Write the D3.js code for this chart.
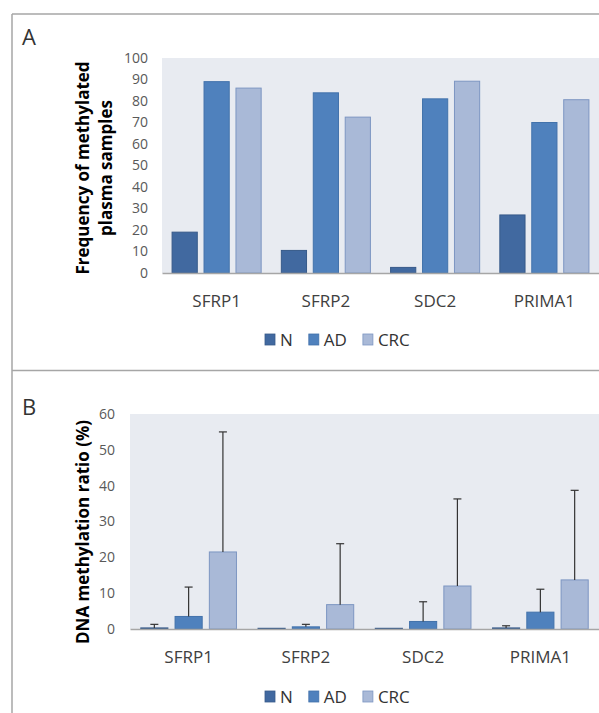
<!DOCTYPE html>
<html lang="en">
<head>
    <meta charset="UTF-8">
    <title>Methylation in plasma samples</title>
    <script src="https://d3js.org/d3.v7.min.js"></script>
    <style>
        body { margin: 0; background: #fff; font-family: "Open Sans", sans-serif; }
        .tick text { fill: #595959; }
        .cat .tick text { fill: #404040; }
    </style>
</head>
<body>
    <div id="chart"></div>
    <script>
        const genes = ["SFRP1", "SFRP2", "SDC2", "PRIMA1"];
        const groups = ["N", "AD", "CRC"];

        // panel A: frequency of methylated plasma samples (%)
        const freqN = [19, 10.5, 2.6, 27];
        const freqAD = [89, 83.8, 81, 70];
        const freqCRC = [86, 72.5, 89.2, 80.6];

        // panel B: DNA methylation ratio (%), mean and upper error
        const ratioN = [0.3, 0.2, 0.2, 0.3];
        const ratioAD = [3.5, 0.6, 2.1, 4.7];
        const ratioCRC = [21.5, 6.8, 12, 13.7];
        const errN = [1.0, 0, 0, 0.6];
        const errAD = [8.2, 0.7, 5.5, 6.4];
        const errCRC = [33.5, 17, 24.3, 25];

        const ticksA = d3.range(0, 101, 10);
        const ticksB = d3.range(0, 61, 10);

        const width = 599, height = 713;
        const fill = { N: "#4169a0", AD: "#4f81bd", CRC: "#a9b9d7" };
        const edge = { N: "#375a89", AD: "#4272ab", CRC: "#7d96c2" };

        const svg = d3.select("#chart").append("svg")
            .attr("width", width)
            .attr("height", height);

        // panel frame
        const frame = svg.append("g").attr("stroke", "#a6a6a6").attr("stroke-width", 1.5);
        frame.append("line").attr("x1", 12).attr("x2", width).attr("y1", 14).attr("y2", 14);
        frame.append("line").attr("x1", 12).attr("x2", width).attr("y1", 370.5).attr("y2", 370.5);
        frame.append("line").attr("x1", 12).attr("x2", 12).attr("y1", 14).attr("y2", height);

        function panel(opt) {
            const g = svg.append("g");
            const rows = genes.map((gene, i) => ({
                gene,
                bars: groups.map(k => ({ key: k, value: opt.values[k][i], err: opt.errs ? opt.errs[k][i] : 0 }))
            }));

            const x0 = d3.scaleBand().domain(genes).range([opt.left, width]);
            const x1 = d3.scaleBand().domain(groups).range([0, x0.bandwidth()])
                .paddingInner(0.18).paddingOuter(0.3);
            const y = d3.scaleLinear().domain(opt.domain).range([opt.bottom, opt.top]);

            g.append("rect")
                .attr("x", opt.left).attr("y", opt.top)
                .attr("width", width - opt.left).attr("height", opt.bottom - opt.top)
                .attr("fill", "#e8ebf1");

            const yAxis = g.append("g")
                .attr("transform", `translate(${opt.left},0)`)
                .call(d3.axisLeft(y).tickValues(opt.ticks).tickSize(0).tickPadding(opt.tickPad));
            yAxis.select(".domain").remove();
            yAxis.selectAll("text").style("font-size", "14px").style("font-family", "Open Sans");

            const gg = g.selectAll(".gene").data(rows).enter().append("g")
                .attr("transform", d => `translate(${x0(d.gene)},0)`);

            gg.selectAll("rect").data(d => d.bars).enter().append("rect")
                .attr("x", d => x1(d.key) + 0.5)
                .attr("y", d => y(d.value))
                .attr("width", x1.bandwidth() - 1)
                .attr("height", d => y(0) - y(d.value))
                .attr("fill", d => fill[d.key])
                .attr("stroke", d => edge[d.key])
                .attr("stroke-width", 1);

            const eb = gg.selectAll(".err").data(d => d.bars.filter(b => b.err > 0)).enter().append("g")
                .attr("stroke", "#333").attr("stroke-width", 1.2);
            eb.append("line")
                .attr("x1", d => x1(d.key) + x1.bandwidth() / 2)
                .attr("x2", d => x1(d.key) + x1.bandwidth() / 2)
                .attr("y1", d => y(d.value))
                .attr("y2", d => y(d.value + d.err));
            eb.append("line")
                .attr("x1", d => x1(d.key) + x1.bandwidth() / 2 - 4)
                .attr("x2", d => x1(d.key) + x1.bandwidth() / 2 + 4)
                .attr("y1", d => y(d.value + d.err))
                .attr("y2", d => y(d.value + d.err));

            const xAxis = g.append("g")
                .attr("class", "cat")
                .attr("transform", `translate(0,${opt.bottom})`)
                .call(d3.axisBottom(x0).tickSize(0).tickSizeOuter(0).tickPadding(22));
            xAxis.select(".domain").attr("stroke", "#a6a6a6").attr("stroke-width", 1.5);
            xAxis.selectAll("text").style("font-size", "17px").style("font-family", "Open Sans");

            // y title
            const t = g.append("text")
                .attr("transform", `translate(0,${opt.titleY}) rotate(-90)`)
                .attr("text-anchor", "middle")
                .style("font-size", "17px")
                .style("font-weight", "bold")
                .attr("fill", "#000");
            opt.title.forEach((line, i) => {
                t.append("tspan").attr("x", 0).attr("y", opt.titleX[i]).text(line);
            });

            // panel letter
            g.append("text")
                .attr("x", 22).attr("y", opt.letterY)
                .style("font-size", "22px")
                .attr("fill", "#333")
                .text(opt.letter);

            // legend
            const lg = g.append("g").attr("transform", `translate(265,${opt.legendY})`);
            let lx = 0;
            groups.forEach(k => {
                lg.append("rect")
                    .attr("x", lx).attr("y", -12)
                    .attr("width", 10).attr("height", 11)
                    .attr("fill", fill[k]).attr("stroke", edge[k]).attr("stroke-width", 0.8);
                const tx = lg.append("text")
                    .attr("x", lx + 15).attr("y", 0)
                    .style("font-size", "17px")
                    .attr("fill", "#333")
                    .text(k);
                lx += 15 + tx.node().getComputedTextLength() + 16;
            });
        }

        panel({
            values: { N: freqN, AD: freqAD, CRC: freqCRC },
            errs: null,
            domain: [0, 100], ticks: ticksA,
            left: 162, top: 58, bottom: 273, tickPad: 14,
            title: ["Frequency of methylated", "plasma samples"],
            titleX: [89, 112], titleY: 168,
            letter: "A", letterY: 45, legendY: 346
        });

        panel({
            values: { N: ratioN, AD: ratioAD, CRC: ratioCRC },
            errs: { N: errN, AD: errAD, CRC: errCRC },
            domain: [0, 60], ticks: ticksB,
            left: 130, top: 414, bottom: 629, tickPad: 15,
            title: ["DNA methylation ratio (%)"],
            titleX: [89], titleY: 532,
            letter: "B", letterY: 415, legendY: 703
        });
    </script>
</body>
</html>
